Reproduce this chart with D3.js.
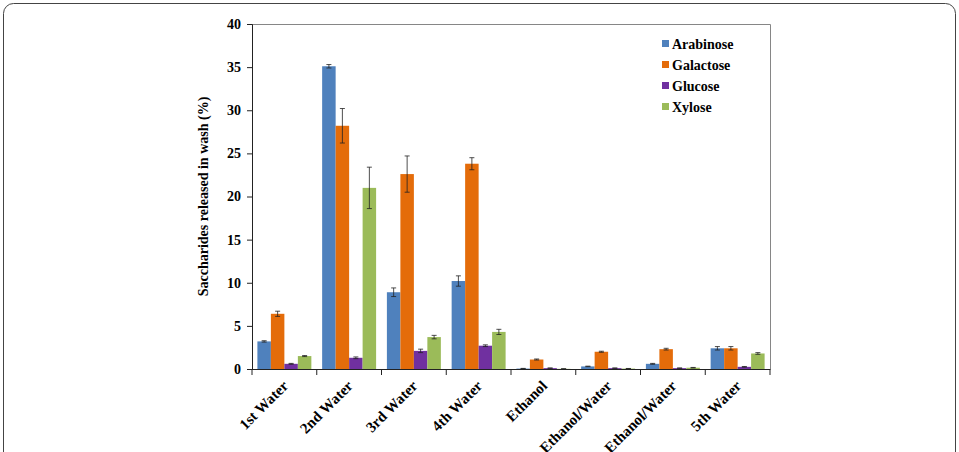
<!DOCTYPE html>
<html>
<head>
  <meta charset="utf-8">
  <title>Saccharides released in wash</title>
  <style>
    body { margin: 0; background: #fff; }
    svg text { font-family: 'Liberation Serif', 'Times New Roman', Tinos, 'DejaVu Serif', serif; font-weight: bold; }
  </style>
</head>
<body>
  <div id='chart'></div>
  <script src="https://d3js.org/d3.v7.min.js"></script>
  <script>

    function translate(x, y) {
      return 'translate(' + x + ',' + y + ')';
    }

    // ---------------------------------------------------------- data
    let categories = ['1st Water', '2nd Water', '3rd Water', '4th Water',
                      'Ethanol', 'Ethanol/Water', 'Ethanol/Water', '5th Water'];
    let seriesNames = ['Arabinose', 'Galactose', 'Glucose', 'Xylose'];
    let seriesColors = ['#4f81bd', '#e46c0a', '#7030a0', '#9bbb59'];

    let arabinose = [3.2, 35.1, 8.9, 10.2, 0.05, 0.3, 0.6, 2.4];
    let galactose = [6.4, 28.2, 22.6, 23.8, 1.1, 2.0, 2.3, 2.4];
    let glucose   = [0.6, 1.3, 2.1, 2.7, 0.1, 0.1, 0.1, 0.25];
    let xylose    = [1.5, 21.0, 3.7, 4.3, 0.02, 0.05, 0.15, 1.8];

    let arabinoseErr = [0.08, 0.2, 0.5, 0.6, 0.02, 0.03, 0.05, 0.2];
    let galactoseErr = [0.3, 2.0, 2.1, 0.7, 0.06, 0.06, 0.1, 0.2];
    let glucoseErr   = [0.05, 0.1, 0.2, 0.1, 0.02, 0.02, 0.02, 0.04];
    let xyloseErr    = [0.06, 2.4, 0.2, 0.3, 0.01, 0.01, 0.03, 0.1];

    let yTicks = [0, 5, 10, 15, 20, 25, 30, 35, 40];

    let values = [arabinose, galactose, glucose, xylose];
    let errors = [arabinoseErr, galactoseErr, glucoseErr, xyloseErr];

    let bars = [];
    categories.forEach(function(c, i) {
      seriesNames.forEach(function(s, j) {
        bars.push({cat: i, series: j, value: values[j][i], err: errors[j][i]});
      });
    });

    // ---------------------------------------------------------- layout
    let svgWidth = 959;
    let svgHeight = 452;
    let margin = {top: 24, right: 189, bottom: 83, left: 252};
    let width = svgWidth - margin.left - margin.right;
    let height = svgHeight - margin.top - margin.bottom;
    let serif = "'Liberation Serif', 'Times New Roman', Tinos, 'DejaVu Serif', serif";

    let svg = d3.select('#chart')
      .append('svg')
      .attr('width', svgWidth)
      .attr('height', svgHeight);

    // outer rounded frame
    svg.append('rect')
      .attr('x', 3.5)
      .attr('y', 3.5)
      .attr('width', svgWidth - 7)
      .attr('height', svgHeight + 20)
      .attr('rx', 10)
      .attr('fill', 'none')
      .attr('stroke', '#444')
      .attr('stroke-width', 1);

    let g = svg.append('g')
      .attr('transform', translate(margin.left, margin.top));

    let x0 = d3.scaleBand()
      .domain(d3.range(categories.length))
      .range([0, width]);

    let x1 = d3.scaleBand()
      .domain(d3.range(seriesNames.length))
      .range([0, x0.bandwidth()])
      .paddingOuter(0.4)
      .paddingInner(0);

    let y = d3.scaleLinear()
      .domain([0, 40])
      .range([height, 0]);

    // plot frame (top and right)
    g.append('path')
      .attr('d', 'M0,0.5H' + (width + 0.5) + 'V' + height)
      .attr('fill', 'none')
      .attr('stroke', '#868686')
      .attr('stroke-width', 1);

    // bars
    g.selectAll('rect.bar')
      .data(bars)
      .enter()
      .append('rect')
      .attr('class', 'bar')
      .attr('x', d => x0(d.cat) + x1(d.series))
      .attr('width', x1.bandwidth())
      .attr('y', d => y(d.value))
      .attr('height', d => height - y(d.value))
      .style('fill', d => seriesColors[d.series]);

    // error bars
    let eb = g.selectAll('g.err')
      .data(bars)
      .enter()
      .append('g')
      .attr('class', 'err')
      .attr('transform', d => translate(x0(d.cat) + x1(d.series) + x1.bandwidth() / 2, 0));

    eb.append('line')
      .attr('x1', 0).attr('x2', 0)
      .attr('y1', d => y(d.value + d.err))
      .attr('y2', d => y(Math.max(0, d.value - d.err)))
      .attr('stroke', '#222')
      .attr('stroke-width', 0.8);

    eb.selectAll('line.cap')
      .data(d => [d.value + d.err, Math.max(0, d.value - d.err)])
      .enter()
      .append('line')
      .attr('class', 'cap')
      .attr('x1', -2.5).attr('x2', 2.5)
      .attr('y1', v => y(v)).attr('y2', v => y(v))
      .attr('stroke', '#222')
      .attr('stroke-width', 0.8);

    // y axis
    let yAxis = g.append('g')
      .call(d3.axisLeft(y).tickValues(yTicks).tickSize(5).tickPadding(6));
    yAxis.select('.domain').attr('stroke', '#222');
    yAxis.selectAll('.tick line').attr('stroke', '#222');
    yAxis.selectAll('text')
      .attr('font-family', serif)
      .style('font-family', serif)
      .style('font-size', '14px')
      .attr('fill', '#000');

    // x axis (ticks at category boundaries)
    let xAxis = g.append('g')
      .attr('transform', translate(0, height));
    xAxis.append('line')
      .attr('x1', 0).attr('x2', width + 0.5)
      .attr('y1', 0.5).attr('y2', 0.5)
      .attr('stroke', '#222');
    xAxis.selectAll('line.tick')
      .data(d3.range(categories.length + 1))
      .enter()
      .append('line')
      .attr('class', 'tick')
      .attr('x1', i => i < categories.length ? x0(i) : width)
      .attr('x2', i => i < categories.length ? x0(i) : width)
      .attr('y1', 0).attr('y2', 6)
      .attr('stroke', '#222');
    xAxis.selectAll('text')
      .data(categories)
      .enter()
      .append('text')
      .attr('transform', (d, i) => translate(x0(i) + x0.bandwidth() / 2 + 1, 14) + ' rotate(-45)')
      .attr('text-anchor', 'end')
      .attr('dy', '0.35em')
      .style('font-family', serif)
      .style('font-size', '15px')
      .text(d => d);

    // y label
    svg.append('text')
      .attr('transform', translate(208, margin.top + height / 2) + ' rotate(-90)')
      .attr('text-anchor', 'middle')
      .style('font-family', serif)
      .style('font-size', '14px')
      .text('Saccharides released in wash (%)');

    // legend
    let legend = svg.selectAll('g.legend')
      .data(seriesNames)
      .enter()
      .append('g')
      .attr('class', 'legend')
      .attr('transform', (d, i) => translate(662, 44 + i * 21));
    legend.append('rect')
      .attr('x', 0).attr('y', -4)
      .attr('width', 7).attr('height', 7)
      .style('fill', (d, i) => seriesColors[i]);
    legend.append('text')
      .attr('x', 10)
      .attr('dy', '0.35em')
      .style('font-family', serif)
      .style('font-size', '14px')
      .text(d => d);

  </script>
</body>
</html>
